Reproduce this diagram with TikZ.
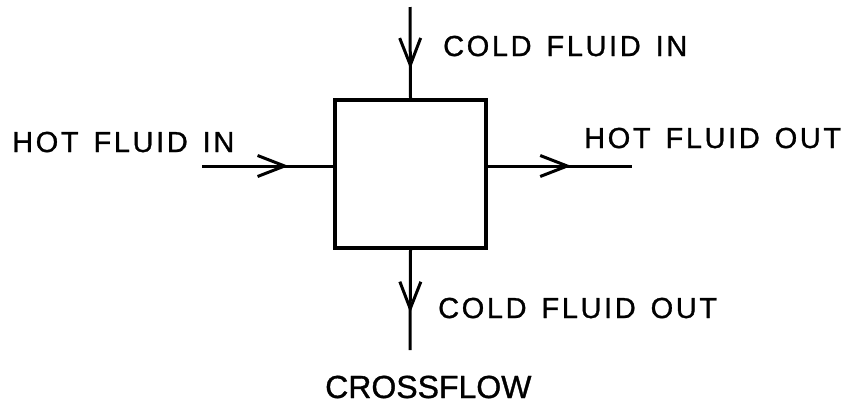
\documentclass[tikz,border=0pt]{standalone}
\usepackage{fontspec}
\newfontfamily\lblfont[LetterSpace=9,WordSpace=1.4,FakeBold=1.0]{Liberation Sans}
\newfontfamily\capfont[FakeBold=1.0]{Liberation Sans}
\usetikzlibrary{arrows.meta, positioning}
\usetikzlibrary{decorations.markings}
\usetikzlibrary{calc}

\tikzset{
  flow/.style={line width=3pt, postaction={decorate}, decoration={markings,
    mark=at position #1 with {\arrow{Straight Barb[length=27pt,width=21pt,line width=3pt]}}}},
  lbl/.style={anchor=base west, inner sep=0pt, font=\lblfont\fontsize{29}{30}\selectfont},
}

\begin{document}
\begin{tikzpicture}[x=1pt, y=-1pt]
\useasboundingbox (0,0) rectangle (848,408);
\node[draw, line width=3.2pt, minimum width=151pt, minimum height=148pt, inner sep=0pt] (hx) at (410.5,174) {};
\coordinate (hin) at (202,166);
\coordinate (hout) at (632,166);
\coordinate (cin) at (410,7);
\coordinate (cout) at (410,350);
\draw[flow=0.66] (hin) -- (hin -| hx.west);
\draw[flow=0.58] (hout -| hx.east) -- (hout);
\draw[flow=0.68] (cin) -- (hx.north);
\draw[flow=0.63] (hx.south) -- (cout);
\node[lbl] (hinlbl) at (12,152) {HOT FLUID IN};
\node[lbl] (cinlbl) at (443,56) {COLD FLUID IN};
\node[lbl] (houtlbl) at (584,148) {HOT FLUID OUT};
\node[lbl] (coutlbl) at (438,318) {COLD FLUID OUT};
\node[anchor=base west, inner sep=0pt, font=\capfont\fontsize{32}{34}\selectfont] (title) at (325,398) {CROSSFLOW};
\end{tikzpicture}
\end{document}
